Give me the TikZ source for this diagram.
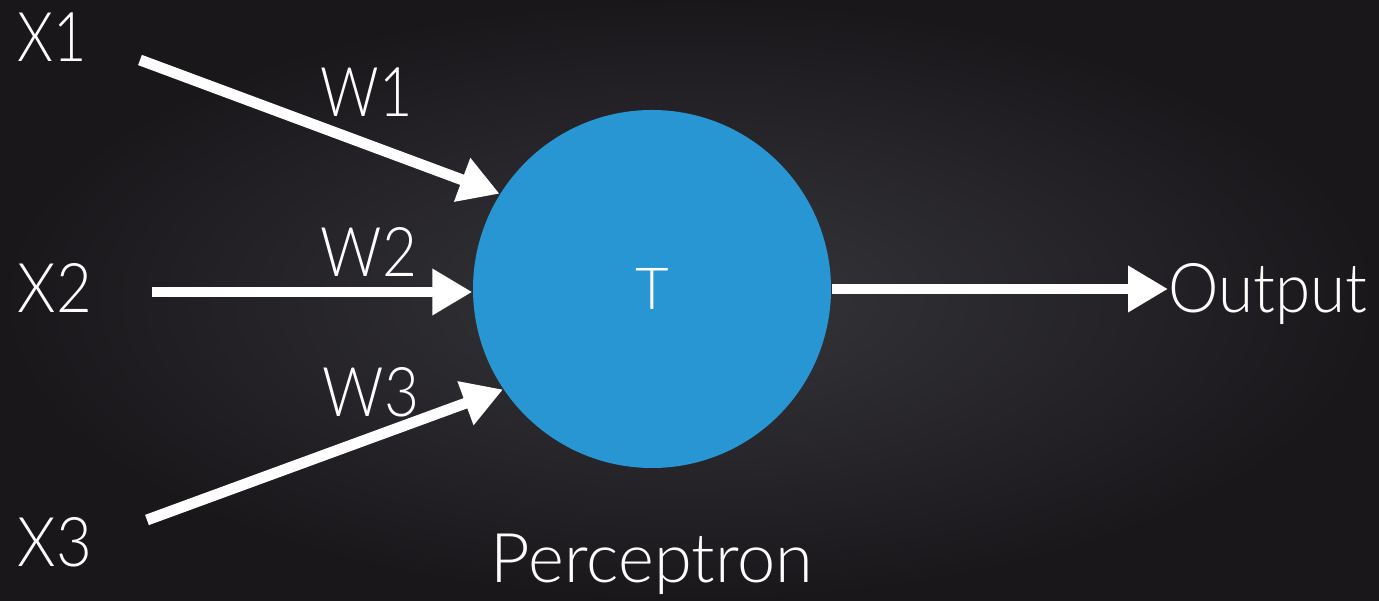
\documentclass[tikz,border=0pt]{standalone}
\usepackage{fontspec}
\setmainfont{Lato}[UprightFont={* Light}]
\usepackage{tikz}
\usetikzlibrary{calc,positioning,arrows.meta}
\usepackage{xcolor}

\definecolor{bgdark}{RGB}{26,23,27}
\definecolor{bgmid}{RGB}{54,54,58}
\definecolor{percblue}{RGB}{40,150,210}

% labels set narrower, closer to the original face
\newcommand{\squeeze}[2][0.84]{\scalebox{#1}[1]{#2}}

\tikzset{
    lbl/.style={text=white, font=\fontsize{19.5}{22}\selectfont, inner sep=0pt},
    wire/.style={white, line width=3.1pt,
        -{Triangle[length=0.40cm, width=0.44cm]}},
}

\begin{document}
\begin{tikzpicture}
    % ---- Background ----
    \shade[inner color=bgmid, outer color=bgdark] (0,0) rectangle (13.79,6.01);
    \useasboundingbox (0,0) rectangle (13.79,6.01);

    % ---- Perceptron ----
    \node[circle, fill=percblue, minimum size=3.58cm, inner sep=0pt] (perc) at (6.52,3.12) {};
    \node[text=white, font=\fontsize{16.5}{19}\selectfont, anchor=base] (thr) at (6.52,2.91) {T};
    \node[lbl, anchor=base] (name) at (6.52,0.18) {Perceptron};

    % Inputs
    \node[lbl, anchor=base west] (x1) at (0.17,5.39) {\squeeze{X1}};
    \node[lbl, anchor=base west] (x2) at (0.17,2.88) {\squeeze[0.9]{X2}};
    \node[lbl, anchor=base west] (x3) at (0.17,0.34) {\squeeze[0.9]{X3}};

    \coordinate (t1) at (1.40,5.41);
    \coordinate (t2) at (1.52,3.09);
    \coordinate (t3) at (1.47,0.81);

    % Weights
    \node[lbl, anchor=base west] (w1) at (3.20,4.84) {\squeeze{W1}};
    \node[lbl, anchor=base west] (w2) at (3.20,3.24) {\squeeze[0.88]{W2}};
    \node[lbl, anchor=base west] (w3) at (3.22,1.84) {\squeeze[0.88]{W3}};

    % Output
    \node[lbl, anchor=base west] (out) at (11.68,2.88) {\squeeze[0.93]{Output}};

    % ---- Arrows ----
    \draw[wire] (t1) -- (perc.148);
    \draw[wire] (t2) -- (t2 -| perc.west);
    \draw[wire] (t3) -- (perc.214);
    \draw[wire] (perc.east) -- (perc.east -| out.west);
\end{tikzpicture}
\end{document}
